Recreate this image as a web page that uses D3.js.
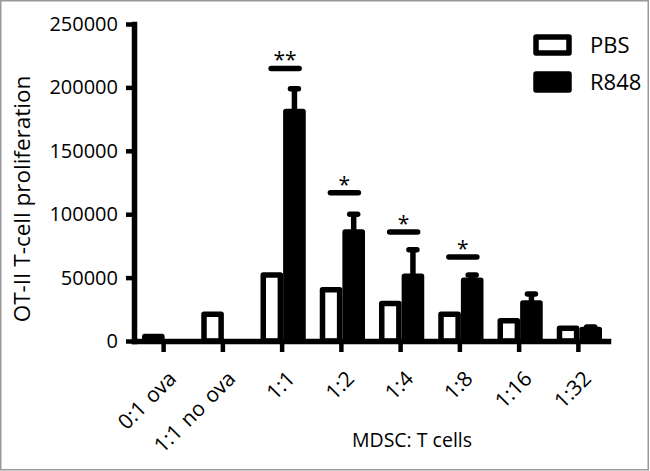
<!DOCTYPE html>
<html>
<head>
<meta charset="utf-8">
<script src="https://cdnjs.cloudflare.com/ajax/libs/d3/7.8.5/d3.min.js"></script>
<style>
  body { margin: 0; background: #fff; }
  text { font-family: "Open Sans", sans-serif; fill: #000; }
</style>
</head>
<body>
<div class="chart"></div>
<script>
var categories = ['0:1 ova', '1:1 no ova', '1:1', '1:2', '1:4', '1:8', '1:16', '1:32'];
var pbs = [3500, 21000, 52000, 40500, 29500, 21000, 16000, 10000];
var r848 = [null, null, 181000, 86000, 51000, 48000, 30000, 9000];
var r848Err = [null, null, 199000, 100000, 72000, 52000, 37000, 11000];
var yTicks = [0, 50000, 100000, 150000, 200000, 250000];
var sigCats = ['1:1', '1:2', '1:4', '1:8'];
var sigLabels = ['**', '*', '*', '*'];
var sigLevels = [215000, 117000, 86000, 66300];
var seriesNames = ['PBS', 'R848'];

var margin = {top: 24, right: 42, bottom: 130, left: 134};
var width = 650 - margin.left - margin.right;
var height = 471 - margin.top - margin.bottom;
var sw = 5.5;

var root = d3.select('.chart')
  .append('svg')
    .attr('width', 650)
    .attr('height', 471);

root.append('rect')
  .attr('x', 0.75).attr('y', 0.75)
  .attr('width', 647.5).attr('height', 469)
  .attr('fill', '#fff')
  .attr('stroke', '#999')
  .attr('stroke-width', 1.5);

var svg = root.append('g')
  .attr('transform', `translate(${margin.left}, ${margin.top})`);

var xScale = d3.scaleBand()
  .domain(categories)
  .range([0, width]);

var xSub = d3.scaleBand()
  .domain(seriesNames)
  .range([8, xScale.bandwidth() - 6]);

var yScale = d3.scaleLinear()
  .domain([0, 250000])
  .range([height, 0]);

// bars
var groups = svg.selectAll('.grp')
  .data(categories)
  .enter()
  .append('g')
    .attr('class', 'grp')
    .attr('transform', d => `translate(${xScale(d)}, 0)`);

var bw = xSub.bandwidth() - sw;
var rx = xSub('R848') + xSub.bandwidth() / 2;

groups.filter((d, i) => r848[i] != null)
  .append('line')
    .attr('x1', rx)
    .attr('x2', rx)
    .attr('y1', d => yScale(r848[categories.indexOf(d)]))
    .attr('y2', d => yScale(r848Err[categories.indexOf(d)]))
    .attr('stroke', '#000')
    .attr('stroke-width', sw);

groups.filter((d, i) => r848[i] != null)
  .append('line')
    .attr('x1', rx - 4)
    .attr('x2', rx + 4)
    .attr('y1', d => yScale(r848Err[categories.indexOf(d)]))
    .attr('y2', d => yScale(r848Err[categories.indexOf(d)]))
    .attr('stroke', '#000')
    .attr('stroke-width', sw)
    .attr('stroke-linecap', 'round');

groups.append('rect')
  .attr('x', xSub('PBS') + sw / 2)
  .attr('width', bw)
  .attr('y', (d, i) => yScale(pbs[i]))
  .attr('height', (d, i) => Math.max(0, height - yScale(pbs[i])))
  .attr('fill', '#fff')
  .attr('stroke', '#000')
  .attr('stroke-width', sw)
  .attr('stroke-linejoin', 'round');

groups.filter((d, i) => r848[i] != null)
  .append('rect')
    .attr('x', xSub('R848') + sw / 2)
    .attr('width', bw)
    .attr('y', d => yScale(r848[categories.indexOf(d)]))
    .attr('height', d => height - yScale(r848[categories.indexOf(d)]))
    .attr('fill', '#000')
    .attr('stroke', '#000')
    .attr('stroke-width', sw)
    .attr('stroke-linejoin', 'round');

// significance
sigCats.forEach(function(c, i) {
  var cx = xScale(c) + xScale.bandwidth() / 2;
  svg.append('line')
    .attr('x1', cx - 11).attr('x2', cx + 17)
    .attr('y1', yScale(sigLevels[i])).attr('y2', yScale(sigLevels[i]))
    .attr('stroke', '#000')
    .attr('stroke-width', sw)
    .attr('stroke-linecap', 'round');
  svg.append('text')
    .attr('x', cx + 3)
    .attr('y', yScale(sigLevels[i]) - 1)
    .attr('text-anchor', 'middle')
    .style('font-size', '21px')
    .text(sigLabels[i]);
});

// axes
var yAxis = svg.append('g')
  .call(d3.axisLeft(yScale).tickValues(yTicks).tickFormat(d3.format('d')).tickSize(8).tickSizeOuter(0).tickPadding(8));

var xAxis = svg.append('g')
  .attr('transform', `translate(0, ${height})`)
  .call(d3.axisBottom(xScale).tickSize(11).tickSizeOuter(0));

[yAxis, xAxis].forEach(function(a) {
  a.select('.domain').attr('stroke-width', sw).attr('stroke-linecap', 'square');
  a.selectAll('.tick line').attr('stroke-width', 4.5);
});
yAxis.selectAll('text').style('font-size', '20px').attr('fill', '#000');

xAxis.selectAll('text')
  .style('font-size', '21px')
  .style('word-spacing', '2px')
  .attr('fill', '#000')
  .attr('text-anchor', 'end')
  .attr('dy', null)
  .attr('y', 0)
  .attr('transform', 'translate(14, 39) rotate(-45)');

// axis titles
svg.append('text')
  .attr('transform', `translate(${30 - margin.left}, ${199 - margin.top}) rotate(-90)`)
  .attr('text-anchor', 'middle')
  .style('font-size', '22.5px')
  .text('OT-II T-cell proliferation');

svg.append('text')
  .attr('x', 412 - margin.left)
  .attr('y', 447 - margin.top)
  .attr('text-anchor', 'middle')
  .style('font-size', '19.5px')
  .text('MDSC: T cells');

// legend
var legend = root.append('g')
  .attr('transform', 'translate(536, 37)');

seriesNames.forEach(function(s, i) {
  legend.append('rect')
    .attr('x', 0).attr('y', i * 37)
    .attr('width', 33).attr('height', 16)
    .attr('fill', i === 0 ? '#fff' : '#000')
    .attr('stroke', '#000')
    .attr('stroke-width', sw)
    .attr('stroke-linejoin', 'round');
  legend.append('text')
    .attr('x', 54).attr('y', i * 37 + 16)
    .style('font-size', '22px')
    .text(s);
});
</script>
</body>
</html>
